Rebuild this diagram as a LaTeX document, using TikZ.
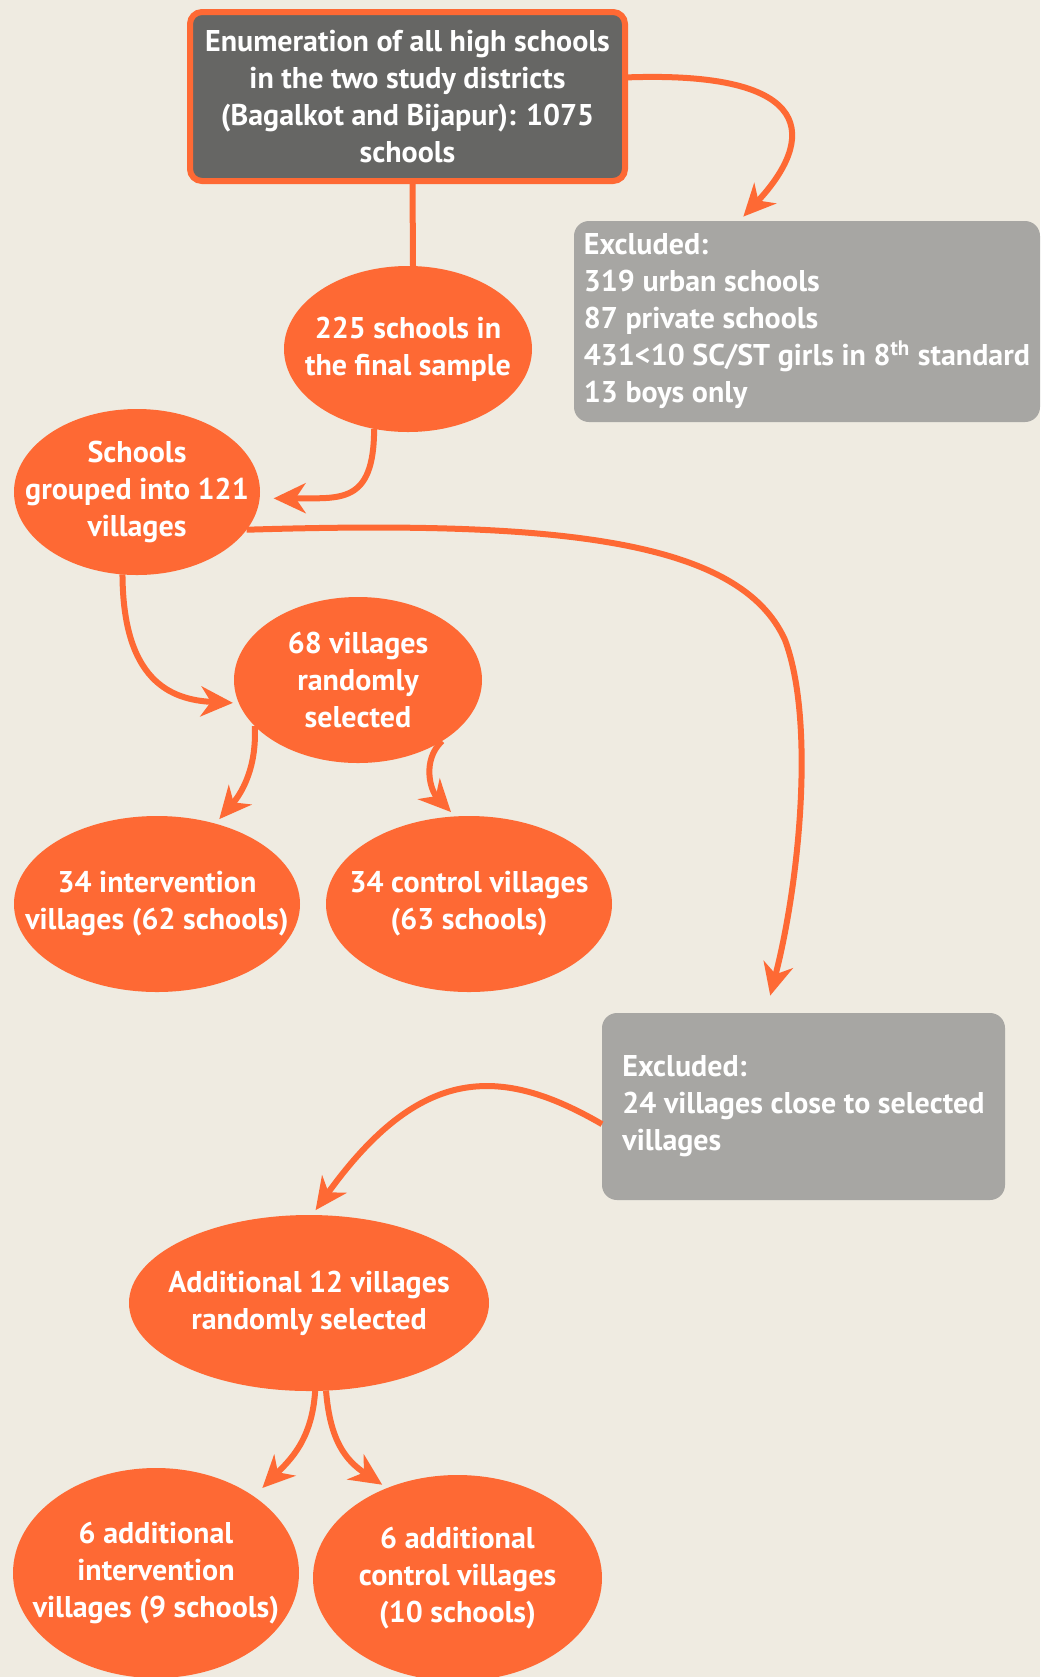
\documentclass[tikz,border=0pt]{standalone}
\usepackage{fontspec}
\setmainfont{PT Sans}
\usetikzlibrary{shapes.geometric,arrows.meta}
\definecolor{bgbeige}{HTML}{EFEBE1}
\definecolor{floworange}{HTML}{FE6934}
\definecolor{boxdark}{HTML}{666664}
\definecolor{boxgrey}{HTML}{A7A6A3}
\begin{document}
\begin{tikzpicture}[x=0.5pt,y=-0.5pt,
    txt/.style={text=white,font=\bfseries\fontsize{15pt}{18.5pt}\selectfont},
    oval/.style={txt,ellipse,fill=floworange,align=center,inner sep=-50pt,outer sep=0pt},
    greybox/.style={txt,rectangle,rounded corners=7.5pt,fill=boxgrey,align=left,inner sep=0pt,outer sep=0pt},
    flow/.style={draw=floworange,line width=3pt,-{Stealth[length=16pt,width=15pt,inset=5pt]}}]
            \useasboundingbox (0,0) rectangle (1040,1677);
            \fill[bgbeige] (0,0) rectangle (1040,1677);
            \node[txt,rectangle,rounded corners=6pt,draw=floworange,line width=3pt,fill=boxdark,align=center,
                minimum width=217.5pt,minimum height=84.5pt,outer sep=0pt] (top) at (407.5,96.5)
                {Enumeration of all high schools\\in the two study districts\\(Bagalkot and Bijapur): 1075\\schools};
            \node[greybox,minimum width=233pt,minimum height=100.5pt] (ex1) at (807,321.5)
                {Excluded:\\319 urban schools\\87 private schools\\431<10 SC/ST girls in 8\textsuperscript{th} standard\\13 boys only};
            \node[oval,minimum width=124pt,minimum height=83pt] (p225) at (408,349) {225 schools in\\the final sample};
            \node[oval,minimum width=123pt,minimum height=83pt] (schools) at (137,492) {Schools\\grouped into 121\\villages};
            \node[oval,minimum width=124pt,minimum height=83pt] (v68) at (358,680) {68 villages\\randomly\\selected};
            \node[oval,minimum width=143pt,minimum height=88pt] (int34) at (157,904) {34 intervention\\villages (62 schools)};
            \node[oval,minimum width=143pt,minimum height=88pt] (con34) at (469,904) {34 control villages\\(63 schools)};
            \node[greybox,minimum width=201.5pt,minimum height=93.5pt] (ex2) at (803.5,1106.5)
                {Excluded:\\24 villages close to selected\\villages};
            \node[oval,minimum width=180pt,minimum height=88pt] (add12) at (309,1303) {Additional 12 villages\\randomly selected};
            \node[oval,minimum width=143pt,minimum height=105pt] (addint) at (156,1573) {6 additional\\intervention\\villages (9 schools)};
            \node[oval,minimum width=144.5pt,minimum height=103pt] (addcon) at (457.5,1578) {6 additional\\control villages\\(10 schools)};

            \draw[floworange,line width=3pt] ([xshift=2.5pt]top.south) -- ([xshift=2.5pt]p225.north);
            \draw[flow,shorten >=3pt] (top.5) .. controls (820,70) and (815,140) .. (ex1.124);
            \draw[flow,shorten >=7pt] (p225.247) .. controls (374,505) and (340,498) .. (schools.-3);
            \draw[flow,shorten >=9pt] (schools.-19) .. controls (560,520) and (740,540) .. (785,640)
                .. controls (815,720) and (800,880) .. (ex2.112);
            \draw[flow,shorten >=3pt] (schools.260) .. controls (123,680) and (170,700) .. (v68.191);
            \draw[flow,shorten >=3pt] (v68.204) .. controls (257,770) and (240,795) .. (int34.54);
            \draw[flow,shorten >=3pt] (v68.-36) .. controls (422,760) and (430,790) .. (con34.99);
            \draw[flow,shorten >=3pt] (ex2.185) .. controls (500,1065) and (420,1065) .. (add12.88);
            \draw[flow,shorten >=6pt] (add12.274) .. controls (312,1440) and (290,1460) .. (addint.38);
            \draw[flow,shorten >=3pt] (add12.281) .. controls (330,1440) and (345,1460) .. (addcon.128);
        \end{tikzpicture}
\end{document}
